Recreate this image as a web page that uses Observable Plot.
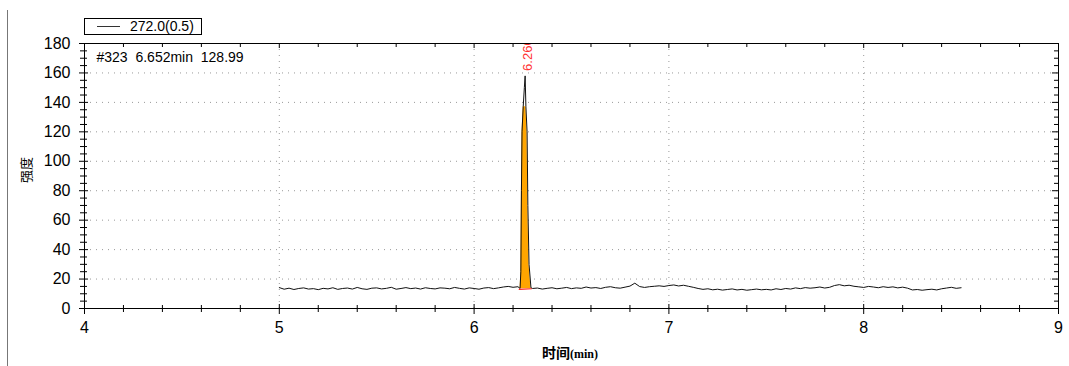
<!DOCTYPE html>
<html>
<head>
<meta charset="utf-8">
<script src="https://cdn.jsdelivr.net/npm/d3@7"></script>
<script src="https://cdn.jsdelivr.net/npm/@observablehq/plot@0.6"></script>
<style>
  body { margin: 0; background: #fff; }
  #wrap { position: relative; width: 1069px; height: 366px; overflow: hidden; font-family: "Liberation Sans", Arial, sans-serif; }
  #border { position: absolute; left: 7px; top: 10px; width: 1px; height: 356px; background: #777; }
  #legend { position: absolute; left: 84px; top: 18px; width: 118px; height: 17px; border: 1px solid #000; box-sizing: border-box; }
  #legend .swatch { position: absolute; left: 12px; top: 7px; width: 23px; height: 0; border-top: 1px solid #333; }
  #legend .txt { position: absolute; left: 45px; top: 0px; font-size: 14px; line-height: 15px; color: #000; }
  #ylab { position: absolute; left: 25px; top: 170px; transform: translate(-50%, -50%) rotate(-90deg); font-family: "Noto Sans CJK SC", sans-serif; font-size: 13px; color: #000; white-space: nowrap; }
  #xlab { position: absolute; left: 570px; top: 352px; transform: translate(-50%, -50%); white-space: nowrap; color: #000; }
  #xlab .cn { font-family: "Noto Sans CJK SC", sans-serif; font-size: 14px; font-weight: bold; }
  #xlab .unit { font-family: "Liberation Serif", serif; font-size: 12px; font-weight: bold; }
  svg { position: absolute; left: 0; top: 0; }
</style>
</head>
<body>
<div id="wrap">
  <div id="border"></div>
</div>
<script>
// ---- data ----
const legendLabel = "272.0(0.5)";
const infoText = "#323\u00a0\u00a06.652min\u00a0\u00a0128.99";
const peakLabel = "6.260";
const peakRT = 6.26;
const xDomain = [4, 9];
const yDomain = [0, 180];
const xMajorTicks = [4, 5, 6, 7, 8, 9];
const xMinorTicks = [4.2,4.4,4.6,4.8,5.2,5.4,5.6,5.8,6.2,6.4,6.6,6.8,7.2,7.4,7.6,7.8,8.2,8.4,8.6,8.8];
const yMajorTicks = [0, 20, 40, 60, 80, 100, 120, 140, 160, 180];
const yMinorTicks = [5,10,15,25,30,35,45,50,55,65,70,75,85,90,95,105,110,115,125,130,135,145,150,155,165,170,175];
const xGrid = [5, 6, 7, 8];
const yGrid = [20, 40, 60, 80, 100, 120, 140, 160];

// baseline before the peak: 5.000 .. 6.225 min, every 0.025 min
const baseStartA = 5.0;
const baseValuesA = [
  14.2,13.1,13.8,12.9,13.6,14.0,13.2,13.5,12.8,13.7,
  13.3,14.1,13.0,13.6,13.9,13.2,14.3,13.4,13.0,13.8,
  14.0,13.3,13.7,14.4,13.1,13.6,14.2,13.5,13.9,13.2,
  14.1,13.6,13.3,14.0,13.8,13.4,14.3,13.7,13.2,14.0,
  13.6,13.1,13.9,14.2,13.5,14.0,14.6,15.0,14.4,14.8
];
// peak region
const peakTimes      = [6.236, 6.240, 6.243, 6.246, 6.252, 6.258, 6.262, 6.266, 6.272, 6.276, 6.282, 6.292];
const peakValues     = [13.6, 25, 80, 120, 137, 150, 158, 137, 120, 70, 30, 14];
const peakFillValues = [13.6, 25, 80, 120, 137, 137, 137, 137, 120, 70, 30, 14];
const peakFillBase = 13.4;
const redBaseTimes = [6.232, 6.294];
const redBaseValues = [13.0, 13.4];
// baseline after the peak: 6.300 .. 8.500 min, every 0.025 min
const baseStartB = 6.3;
const baseValuesB = [
  13.6,13.9,13.2,13.7,14.1,13.4,13.8,14.3,
  13.5,14.0,13.7,14.6,13.9,14.2,13.6,14.4,14.8,14.1,
  13.8,14.5,15.2,17.2,14.9,14.3,14.8,15.1,15.4,15.0,
  15.6,16.0,15.3,15.8,15.1,14.4,13.6,13.0,13.4,12.7,
  13.1,12.5,12.9,13.3,12.6,13.0,12.4,12.8,13.2,12.7,
  13.0,12.6,13.4,12.9,13.6,13.2,14.0,13.5,14.2,13.8,
  14.1,14.6,13.9,14.4,15.6,16.2,15.4,15.8,15.1,14.7,
  14.3,15.0,14.6,14.1,14.8,14.3,14.7,14.0,14.5,13.8,
  12.6,12.9,12.4,12.8,13.1,12.6,13.4,13.9,14.4,13.7,14.1
];
const sampleStep = 0.025;

// ---- build tables ----
const trace = [
  ...baseValuesA.map((v, i) => ({t: baseStartA + i * sampleStep, v})),
  ...peakTimes.map((t, i) => ({t, v: peakValues[i]})),
  ...baseValuesB.map((v, i) => ({t: baseStartB + i * sampleStep, v}))
];
const fill = peakTimes.map((t, i) => ({t, v: peakFillValues[i], b: peakFillBase}));
const redBase = redBaseTimes.map((t, i) => ({t, v: redBaseValues[i]}));

const yLo = yDomain[0], yHi = yDomain[1], xLo = xDomain[0], xHi = xDomain[1];
const dotted = {stroke: "#999", strokeOpacity: 1, strokeDasharray: "1,5", strokeWidth: 1};

const chart = Plot.plot({
  width: 1069,
  height: 366,
  marginLeft: 84,
  marginRight: 11,
  marginTop: 43,
  marginBottom: 58,
  x: {domain: xDomain, label: null},
  y: {domain: yDomain, label: null},
  style: {fontFamily: "'Liberation Sans', Arial, sans-serif", fontSize: "16px", color: "#000", background: "transparent"},
  marks: [
    Plot.ruleY(yGrid, dotted),
    Plot.ruleX(xGrid, dotted),
    Plot.areaY(fill, {x: "t", y1: "b", y2: "v", fill: "#FFA500", curve: "linear"}),
    Plot.line(trace, {x: "t", y: "v", stroke: "#111", strokeWidth: 1}),
    Plot.line(redBase, {x: "t", y: "v", stroke: "#ff2020", strokeWidth: 1.2}),
    Plot.text([{t: peakRT, v: peakValues[6], s: peakLabel}], {x: "t", y: "v", text: "s", rotate: -90, textAnchor: "start", lineAnchor: "middle", dx: 3, dy: -5, fill: "#ff3333", fontSize: 13, clip: true}),
    Plot.text([infoText], {frameAnchor: "top-left", text: d => d, textAnchor: "start", lineAnchor: "middle", dx: 12, dy: 14, fontSize: 14, fill: "#000"}),
    Plot.frame({stroke: "#000", strokeWidth: 1}),
    // bottom ticks (cross the axis)
    Plot.ruleX(xMajorTicks, {y1: yLo, y2: yLo, insetTop: -4, insetBottom: -6, stroke: "#000"}),
    Plot.ruleX(xMinorTicks, {y1: yLo, y2: yLo, insetTop: -3, insetBottom: -4, stroke: "#000"}),
    // top ticks (inward)
    Plot.ruleX(xMajorTicks, {y1: yHi, y2: yHi, insetTop: 0, insetBottom: -5, stroke: "#000"}),
    Plot.ruleX(xMinorTicks, {y1: yHi, y2: yHi, insetTop: 0, insetBottom: -4, stroke: "#000"}),
    // left ticks (cross the axis)
    Plot.ruleY(yMajorTicks, {x1: xLo, x2: xLo, insetLeft: -5, insetRight: -4, stroke: "#000"}),
    Plot.ruleY(yMinorTicks, {x1: xLo, x2: xLo, insetLeft: -4, insetRight: -3, stroke: "#000"}),
    // right ticks (inward)
    Plot.ruleY(yMajorTicks, {x1: xHi, x2: xHi, insetLeft: -6, insetRight: 0, stroke: "#000"}),
    Plot.ruleY(yMinorTicks, {x1: xHi, x2: xHi, insetLeft: -4, insetRight: 0, stroke: "#000"}),
    // tick labels
    Plot.axisX(xMajorTicks, {anchor: "bottom", tickSize: 0, tickPadding: 13, fontSize: 16, label: null, tickFormat: d => `${d}`}),
    Plot.axisY(yMajorTicks, {anchor: "left", tickSize: 0, tickPadding: 14, fontSize: 16, label: null, tickFormat: d => `${d}`})
  ]
});

const wrap = document.getElementById("wrap");
wrap.appendChild(chart);

const legend = document.createElement("div");
legend.id = "legend";
legend.innerHTML = '<div class="swatch"></div><div class="txt"></div>';
legend.querySelector(".txt").textContent = legendLabel;
wrap.appendChild(legend);

const ylab = document.createElement("div");
ylab.id = "ylab";
ylab.textContent = "强度";
wrap.appendChild(ylab);

const xlab = document.createElement("div");
xlab.id = "xlab";
xlab.innerHTML = '<span class="cn">时间</span><span class="unit">(min)</span>';
wrap.appendChild(xlab);
</script>
</body>
</html>
